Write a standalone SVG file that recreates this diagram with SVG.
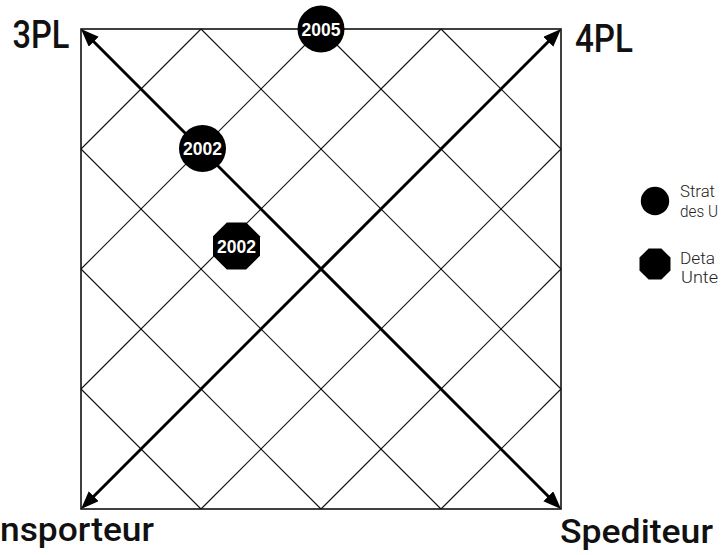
<svg xmlns="http://www.w3.org/2000/svg" xmlns:xlink="http://www.w3.org/1999/xlink" width="723" height="555" viewBox="0 0 723 555">
  <style>
    .frame { fill: none; stroke: #111; stroke-width: 1.6; }
    .grid line { stroke: #111; stroke-width: 1.1; }
    .axis { stroke: #000; stroke-width: 3; marker-start: url(#head); marker-end: url(#head); }
    .label { font-family: Roboto, "Liberation Sans", sans-serif; font-weight: 500; fill: #111; }
    .year { font-family: "Liberation Sans", Arial, sans-serif; font-weight: bold; font-size: 18px; fill: #fff; text-anchor: middle; }
    .legend { font-family: Roboto, "Liberation Sans", sans-serif; font-weight: 300; font-size: 16px; fill: #222; }
    .mark { fill: #000; }
  </style>
  <defs>
    <marker id="head" markerUnits="userSpaceOnUse" markerWidth="20" markerHeight="16" refX="2" refY="7" orient="auto-start-reverse">
      <path d="M0,0 L18,7 L0,14 z" fill="#000"/>
    </marker>
    <polygon id="oct" points="23.5,9.7 9.7,23.5 -9.7,23.5 -23.5,9.7 -23.5,-9.7 -9.7,-23.5 9.7,-23.5 23.5,-9.7"/>
  </defs>

  <rect width="723" height="555" fill="#fff"/>

  <!-- square frame -->
  <rect class="frame" x="81" y="29" width="480" height="480"/>

  <!-- connectors: diagonal grid and the two main axes -->
  <g id="connectors">
    <g class="grid">
      <line x1="201" y1="29" x2="561" y2="389"/>
      <line x1="321" y1="29" x2="561" y2="269"/>
      <line x1="441" y1="29" x2="561" y2="149"/>
      <line x1="81" y1="149" x2="441" y2="509"/>
      <line x1="81" y1="269" x2="321" y2="509"/>
      <line x1="81" y1="389" x2="201" y2="509"/>
      <line x1="201" y1="29" x2="81" y2="149"/>
      <line x1="321" y1="29" x2="81" y2="269"/>
      <line x1="441" y1="29" x2="81" y2="389"/>
      <line x1="561" y1="149" x2="201" y2="509"/>
      <line x1="561" y1="269" x2="321" y2="509"/>
      <line x1="561" y1="389" x2="441" y2="509"/>
    </g>
    <line class="axis" x1="92.3" y1="40.3" x2="549.7" y2="497.7"/>
    <line class="axis" x1="549.7" y1="40.3" x2="92.3" y2="497.7"/>
  </g>

  <!-- corner labels -->
  <g id="label-3pl"><text class="label" x="12.5" y="47.5" font-size="38" textLength="57" lengthAdjust="spacingAndGlyphs">3PL</text></g>
  <g id="label-4pl"><text class="label" x="575" y="51.5" font-size="38" textLength="58" lengthAdjust="spacingAndGlyphs">4PL</text></g>
  <g id="label-transporteur"><text class="label" x="0" y="541" font-size="34" textLength="154" lengthAdjust="spacingAndGlyphs">nsporteur</text></g>
  <g id="label-spediteur"><text class="label" x="560" y="543" font-size="34" textLength="153" lengthAdjust="spacingAndGlyphs">Spediteur</text></g>

  <!-- year markers -->
  <g id="year-2005">
    <circle class="mark" cx="321" cy="29" r="23.5"/>
    <text class="year" x="321" y="35.5" textLength="39" lengthAdjust="spacingAndGlyphs">2005</text>
  </g>
  <g id="year-2002-circle">
    <circle class="mark" cx="202.5" cy="148.5" r="23.5"/>
    <text class="year" x="202.5" y="155" textLength="39" lengthAdjust="spacingAndGlyphs">2002</text>
  </g>
  <g id="year-2002-octagon">
    <use xlink:href="#oct" class="mark" transform="translate(236.5,246)"/>
    <text class="year" x="236.5" y="252.5" textLength="39" lengthAdjust="spacingAndGlyphs">2002</text>
  </g>

  <!-- legend -->
  <g id="legend-strategic">
    <circle class="mark" cx="655" cy="201" r="14.2"/>
    <text class="legend" x="680" y="197" textLength="35" lengthAdjust="spacingAndGlyphs">Strat</text>
    <text class="legend" x="680" y="216.5" textLength="38" lengthAdjust="spacingAndGlyphs">des U</text>
  </g>
  <g id="legend-detail">
    <use xlink:href="#oct" class="mark" transform="translate(655,264) scale(0.66)"/>
    <text class="legend" x="680" y="263.5" textLength="35" lengthAdjust="spacingAndGlyphs">Deta</text>
    <text class="legend" x="681" y="283" textLength="37" lengthAdjust="spacingAndGlyphs">Unte</text>
  </g>
</svg>
